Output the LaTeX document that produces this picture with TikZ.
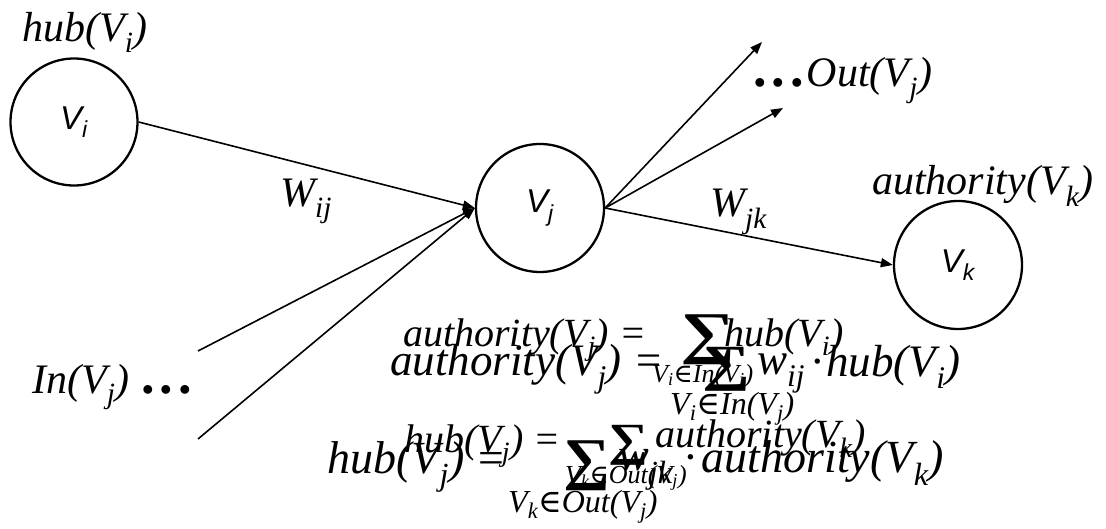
\documentclass[tikz,border=0pt]{standalone}
\usepackage{fontspec}
\usepackage{graphicx}
\setmainfont{Liberation Serif}
\newfontfamily\nodefont{Liberation Sans}
\newfontfamily\symbfont{DejaVu Serif}
\usetikzlibrary{
  arrows.meta,
  positioning
}
\newcommand{\fs}[1]{\fontsize{#1}{#1}\selectfont}
\newcommand{\sumsign}[2]{\resizebox*{#1}{#2}{\upshape\bfseries ∑}}
\newcommand{\elem}{{\symbfont\upshape ∈}}
\newcommand{\bigdots}{{\fs{54}\bfseries .\kern5pt.\kern5pt.}}
\tikzset{
  >={Triangle[length=12pt,width=9pt]},
  vertex/.style={
    circle,
    draw=black,
    line width=2.3pt,
    minimum size=127pt,
    inner sep=0pt,
    font=\nodefont\itshape\fs{33}
  },
  edge/.style={->,line width=1.6pt,draw=black},
  tag/.style={inner sep=0pt,anchor=base west,font=\itshape\fs{42}},
  piece/.style={inner sep=0pt,anchor=base west,font=\itshape\fs{#1}},
  sumbox/.style={inner sep=0pt,anchor=north west}
}

\begin{document}
\begin{tikzpicture}[x=1pt,y=-1pt]
  \useasboundingbox (0,0) rectangle (1106,529);

  \node[vertex] (vi) at (74,122) {V\textsubscript{i}};
  \node[vertex,minimum size=128pt] (vj) at (540,208) {V\textsubscript{j}};
  \node[vertex,minimum size=128pt] (vk) at (958,265) {V\textsubscript{k}};

  \coordinate (in1) at (198,351);
  \coordinate (in2) at (198,439);
  \coordinate (out1) at (762,42);
  \coordinate (out2) at (783,108);

  \draw[edge] (vi.east) -- (vj.west);
  \draw[edge] (in1) -- (vj.west);
  \draw[edge] (in2) -- (vj.west);
  \draw[edge] (vj.east) -- (out1);
  \draw[edge] (vj.east) -- (out2);
  \draw[edge] (vj.east) -- (vk.west);

  \node[tag] (hubi) at (22,42) {hub(V\textsubscript{i})};
  \node[tag] (wij) at (280,207) {W\textsubscript{ij}};
  \node[tag] (outj) at (755,87) {\bigdots\kern1pt Out(V\textsubscript{j})};
  \node[tag] (wjk) at (710,217) {W\textsubscript{jk}};
  \node[tag] (authk) at (872,195) {authority(V\textsubscript{k})};
  \node[tag] (inj) at (32,393) {In(V\textsubscript{j})\kern14pt\bigdots};

  \node[piece=40] (authA) at (403,346) {authority(V\textsubscript{j}) =};
  \node[sumbox] (sumA) at (680,315) {\sumsign{55pt}{50pt}};
  \node[piece=26] (subA) at (652,382) {V\textsubscript{i}\elem In(V\textsubscript{j})};
  \node[piece=40] (hubA) at (724,346) {hub(V\textsubscript{i})};

  \node[piece=45] (authB) at (390,375) {authority(V\textsubscript{j}) =};
  \node[sumbox] (sumB) at (702,347) {\sumsign{48pt}{44pt}};
  \node[piece=32] (subB) at (670,414) {V\textsubscript{i}\elem In(V\textsubscript{j})};
  \node[piece=45] (wB) at (757,374) {w\textsubscript{ij}};
  \node[piece=45] (hubB) at (811,376) {\textperiodcentered\kern4pt hub(V\textsubscript{i})};

  \node[piece=40] (hubC) at (404,452) {hub(V\textsubscript{j}) =};
  \node[sumbox] (sumC) at (563,441) {\sumsign{47pt}{50pt}};
  \node[piece=26] (subC) at (565,483) {V\textsubscript{k}\elem Out(V\textsubscript{j})};
  \node[piece=40] (authC) at (655,447) {authority(V\textsubscript{k})};

  \node[piece=46] (hubD) at (327,473) {hub(V\textsubscript{j}) =};
  \node[sumbox] (sumD) at (608,425) {\sumsign{40pt}{40pt}};
  \node[piece=46] (wD) at (618,470) {w\textsubscript{jk}};
  \node[piece=46] (authD) at (684,472) {\textperiodcentered\kern6pt authority(V\textsubscript{k})};
  \node[piece=32] (subD) at (508,512) {V\textsubscript{k}\elem Out(V\textsubscript{j})};
\end{tikzpicture}
\end{document}
